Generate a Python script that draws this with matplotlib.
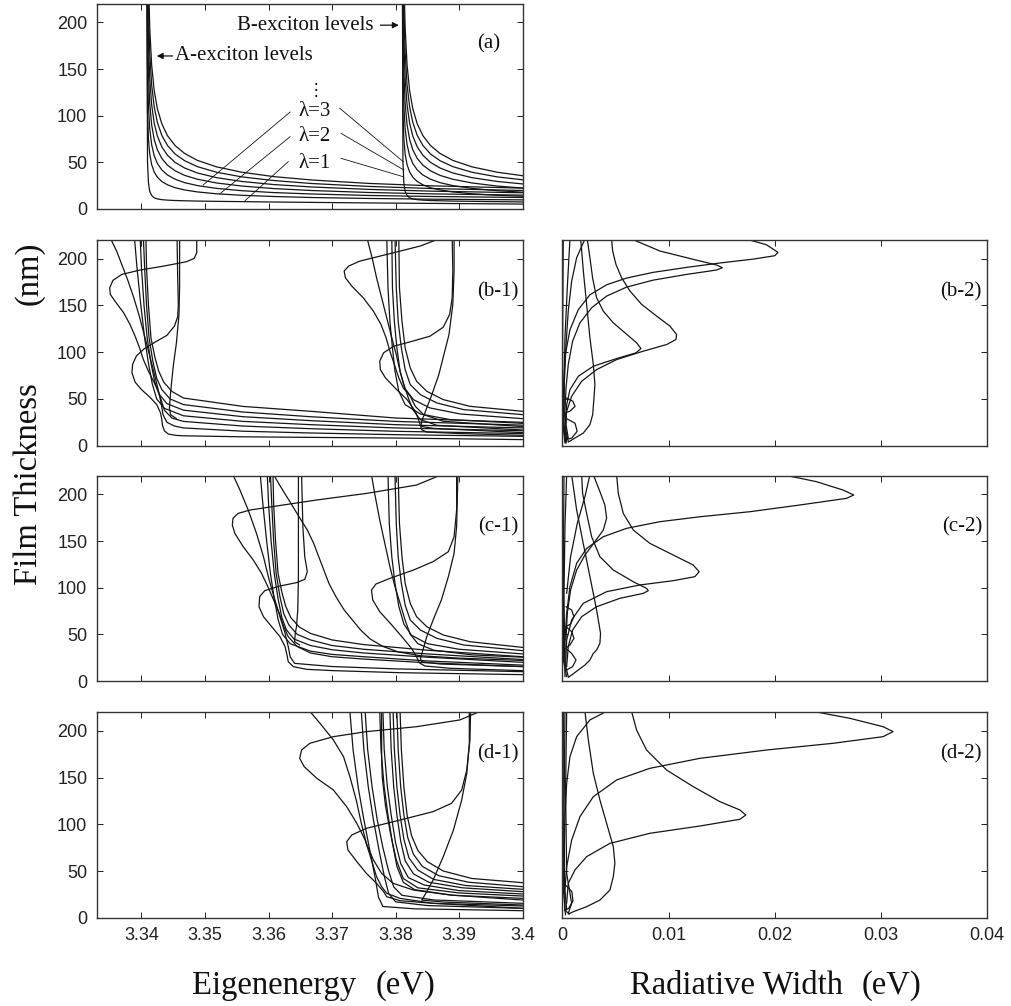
import matplotlib
matplotlib.use('Agg')
import matplotlib.pyplot as plt

plt.rcParams['font.family'] = ['Liberation Sans', 'DejaVu Sans']
SERIF = ['Liberation Serif', 'DejaVu Serif']

# ---------------- panel (a): quantized exciton levels ----------------
level_energy_A = [3.4058, 3.3858, 3.3758, 3.3668, 3.3608, 3.3558, 3.3518, 3.3488, 3.3468, 3.3453,
                  3.3441, 3.3432, 3.3425, 3.3420, 3.3416, 3.3413, 3.3411, 3.34095, 3.3408]
level_energy_B = [3.4460, 3.4260, 3.4160, 3.4070, 3.4010, 3.3960, 3.3920, 3.3890, 3.3870, 3.3855,
                  3.3843, 3.3834, 3.3827, 3.3822, 3.3818, 3.3815, 3.3813, 3.38115, 3.3810]
thick_lam1 = [5.0, 6.0, 6.5, 7.1, 7.5, 7.9, 8.2, 8.5, 8.8, 9.1, 9.5, 10.0, 10.8, 12.0, 14.5, 19.0, 28.0, 50.0, 400]
thick_lam2 = [9.5, 10.5, 11.3, 12.3, 13.4, 14.7, 16.3, 18.3, 20.4, 22.8, 25.9, 29.5, 34.1, 39.7, 47.6, 58.9, 74.7, 103.6, 400]
thick_lam3 = [11.9, 13.4, 14.5, 16.1, 17.6, 19.6, 22.1, 25.1, 28.2, 31.9, 36.4, 41.9, 48.8, 57.2, 69.0, 86.0, 109.6, 153.0, 400]
thick_lam4 = [14.3, 16.2, 17.7, 19.8, 21.9, 24.6, 27.9, 31.9, 36.0, 40.9, 46.9, 54.2, 63.5, 74.6, 90.4, 113.0, 144.5, 202.4, 400]
thick_lam5 = [16.7, 19.1, 21.0, 23.6, 26.2, 29.5, 33.6, 38.6, 43.9, 49.9, 57.5, 66.6, 78.2, 92.1, 111.8, 140.1, 179.5, 251.8, 400]
thick_lam6 = [19.0, 21.9, 24.2, 27.3, 30.5, 34.4, 39.4, 45.4, 51.7, 58.9, 68.0, 78.9, 92.8, 109.6, 133.1, 167.2, 214.4, 301.2, 400]
thick_lam7 = [21.4, 24.8, 27.4, 31.1, 34.7, 39.4, 45.2, 52.1, 59.5, 67.9, 78.5, 91.3, 107.5, 127.0, 154.5, 194.2, 249.3, 350.6, 400]

# ---------------- panel (b-1) ----------------
b1_A_upperS = [(3.3487, 222.5), (3.3487, 206.4), (3.3483, 200.4), (3.3471, 196.8), (3.3435, 192.1), (3.3398, 187.9),
               (3.3369, 183.2), (3.3355, 176.8), (3.3350, 168.9), (3.3351, 161.8), (3.3359, 153.9), (3.3372, 142.1),
               (3.3382, 129.6), (3.3390, 117.1), (3.3397, 104.6), (3.3403, 92.1), (3.3411, 79.6), (3.3419, 68.9),
               (3.3425, 60), (3.3430, 51), (3.3436, 38), (3.3448, 29.5), (3.3466, 26), (3.3560, 21), (3.3666, 18.2),
               (3.3800, 15.4), (3.4, 13)]
b1_A_tilted = [(3.3351, 222), (3.3361, 208), (3.3370, 192), (3.3379, 176), (3.3388, 158), (3.3396, 140), (3.3403, 122),
               (3.3410, 104), (3.3416, 88), (3.3422, 72), (3.3427, 58), (3.3431, 45), (3.3434, 33), (3.3440, 25),
               (3.3452, 21), (3.3466, 19), (3.3560, 15.5), (3.3666, 13.6), (3.3800, 11.8), (3.4, 10)]
b1_A_lev4 = [(3.3389, 222), (3.3393, 190), (3.3399, 150), (3.3405, 115), (3.3411, 88), (3.3417, 66), (3.3424, 50),
             (3.3436, 40), (3.3466, 32), (3.3560, 26), (3.3666, 22.5), (3.3800, 19), (3.4, 16)]
b1_A_lev5 = [(3.3398, 222), (3.3400, 190), (3.3404, 150), (3.3409, 115), (3.3415, 88), (3.3421, 68), (3.3428, 55),
             (3.3440, 45), (3.3466, 38), (3.3560, 31), (3.3666, 26.8), (3.3800, 22.5), (3.4, 19)]
b1_A_lev6 = [(3.3403, 222), (3.3405, 190), (3.3408, 150), (3.3412, 115), (3.3418, 90), (3.3424, 72), (3.3432, 60),
             (3.3445, 50), (3.3466, 44), (3.3560, 36), (3.3666, 31), (3.3800, 26), (3.4, 22)]
b1_A_lev7 = [(3.3407, 222), (3.3408, 190), (3.3411, 150), (3.3415, 115), (3.3421, 95), (3.3427, 80), (3.3435, 68),
             (3.3448, 58), (3.3466, 51), (3.3560, 42), (3.3666, 36.8), (3.3800, 29.6), (3.4, 25)]
b1_A_lowerS = [(3.3456, 222), (3.3457, 180), (3.3458, 150), (3.3457, 138), (3.3452, 128), (3.3440, 118), (3.3422, 111),
               (3.3405, 104), (3.3392, 96), (3.3386, 87), (3.3385, 78), (3.3390, 68), (3.3400, 60), (3.3413, 52),
               (3.3424, 44), (3.3430, 35), (3.3432, 28), (3.3433, 22), (3.3436, 16), (3.3442, 12.5), (3.3455, 11),
               (3.3466, 10.6), (3.3560, 9.5), (3.3666, 8.9), (3.3800, 8.2), (3.4, 6.5)]
b1_A_vert = [(3.3460, 222), (3.3460, 170), (3.3459, 140), (3.3455, 110), (3.3450, 85), (3.3447, 65), (3.3445, 50),
             (3.3444, 40), (3.3446, 33), (3.3455, 29)]
b1_B_upperS = [(3.3873, 222.5), (3.3839, 213.6), (3.3797, 206.4), (3.3744, 197.5), (3.3726, 192.1), (3.3719, 186.8),
               (3.3721, 179.6), (3.3731, 170.7), (3.3749, 158.2), (3.3765, 143.9), (3.3777, 129.6), (3.3785, 115.4),
               (3.3791, 101), (3.3798, 86.8), (3.3805, 72.5), (3.3812, 61.8), (3.3823, 52.9), (3.3831, 42.1),
               (3.3844, 33.2), (3.3875, 26.1), (3.4, 20.4)]
b1_B_tilted = [(3.3755, 222), (3.3763, 201), (3.3770, 179.6), (3.3778, 158.2), (3.3786, 136.8), (3.3794, 115.4),
               (3.3801, 97.5), (3.3807, 79.6), (3.3813, 65.4), (3.3820, 51), (3.3827, 38.6), (3.3839, 27.9),
               (3.3865, 21.8), (3.4, 16.8)]
b1_B_lev1 = [(3.3786, 222.5), (3.3788, 169), (3.3791, 133), (3.3795, 104.6), (3.3799, 79.6), (3.3805, 58.2),
             (3.3815, 43.9), (3.3839, 33.9), (3.3886, 27.9), (3.4, 23.9)]
b1_B_lev2 = [(3.3794, 222.5), (3.3795, 169), (3.3798, 133), (3.3802, 104.6), (3.3807, 79.6), (3.3814, 61.8),
             (3.3828, 49.3), (3.3854, 40.4), (3.3902, 33.9), (3.4, 28.9)]
b1_B_lev3 = [(3.3799, 222.5), (3.3801, 169), (3.3804, 133), (3.3809, 104.6), (3.3815, 81.4), (3.3823, 65.4),
             (3.3839, 54.6), (3.3865, 45.7), (3.3907, 38.6), (3.4, 33.2)]
b1_B_lev4 = [(3.3805, 222.5), (3.3806, 169), (3.3810, 133), (3.3815, 104.6), (3.3823, 83.2), (3.3833, 68.9),
             (3.3849, 58.2), (3.3875, 49.3), (3.3917, 42.1), (3.4, 36.8)]
b1_B_lowerS = [(3.3889, 222.5), (3.3890, 186.8), (3.3889, 158.2), (3.3885, 140.4), (3.3875, 126.8), (3.3854, 117.1),
               (3.3823, 111.1), (3.3797, 106.4), (3.3781, 99.3), (3.3775, 90.4), (3.3776, 81.4), (3.3784, 72.5),
               (3.3799, 61.8), (3.3818, 49.3), (3.3831, 36.8), (3.3836, 27.9), (3.3839, 21.8), (3.3841, 17.1),
               (3.3849, 14.6), (3.3900, 13), (3.4, 11.1)]
b1_B_vert = [(3.3892, 222.5), (3.3892, 186.8), (3.3890, 151), (3.3884, 118.9), (3.3876, 97.5), (3.3868, 76),
             (3.3857, 54.6), (3.3847, 36.8), (3.3841, 26), (3.3840, 20.7), (3.3860, 18.5), (3.4, 14)]

# ---------------- panel (c-1) ----------------
c1_longS = [(3.3872, 221), (3.3833, 210), (3.3754, 201), (3.3676, 194), (3.3623, 188.6), (3.3571, 183.2),
            (3.3552, 179.6), (3.3544, 174.3), (3.3543, 167), (3.3547, 158.2), (3.3560, 144), (3.3576, 129.6),
            (3.3589, 115.4), (3.3599, 101), (3.3608, 86.8), (3.3617, 72.5), (3.3624, 58.2), (3.3631, 47.5),
            (3.3645, 37), (3.3666, 30), (3.3700, 26), (3.3750, 23.5), (3.3850, 19.5), (3.4, 15.5)]
c1_A_tilted = [(3.3544, 221), (3.3555, 204.6), (3.3568, 183.2), (3.3581, 158.2), (3.3592, 133.2), (3.3601, 108.2),
               (3.3610, 86.8), (3.3618, 68.9), (3.3626, 51.1), (3.3631, 36.8), (3.3634, 26), (3.3641, 18.9),
               (3.3700, 15.5), (3.3800, 13), (3.4, 10)]
c1_A_lev1 = [(3.3587, 221), (3.3591, 190), (3.3597, 150), (3.3603, 115), (3.3609, 88), (3.3615, 66), (3.3622, 50),
             (3.3634, 40), (3.3666, 32), (3.3700, 28.5), (3.3750, 26), (3.3850, 21.5), (3.4, 17)]
c1_A_lev2 = [(3.3598, 221), (3.3600, 190), (3.3604, 150), (3.3609, 115), (3.3615, 88), (3.3621, 68), (3.3628, 55),
             (3.3640, 45), (3.3666, 38), (3.3700, 33.5), (3.3750, 30), (3.3850, 25.5), (3.4, 20)]
c1_A_lev3 = [(3.3603, 221), (3.3605, 190), (3.3608, 150), (3.3612, 115), (3.3618, 90), (3.3624, 72), (3.3632, 60),
             (3.3645, 50), (3.3666, 44), (3.3700, 38), (3.3750, 34), (3.3850, 29), (3.4, 23)]
c1_A_lev4 = [(3.3607, 221), (3.3608, 190), (3.3611, 150), (3.3615, 115), (3.3621, 95), (3.3627, 80), (3.3635, 68),
             (3.3648, 58), (3.3666, 51), (3.3700, 44), (3.3750, 39), (3.3850, 33), (3.4, 26)]
c1_A_lowerS = [(3.3652, 221), (3.3654, 165.4), (3.3657, 133.2), (3.3661, 117.1), (3.3657, 108.9), (3.3644, 105.4),
               (3.3618, 101.8), (3.3594, 96.8), (3.3586, 90.4), (3.3585, 79.6), (3.3592, 68.9), (3.3605, 58.2),
               (3.3618, 47.5), (3.3626, 36.8), (3.3629, 27.9), (3.3631, 20.7), (3.3639, 15.4), (3.3660, 12.5),
               (3.3702, 11.1), (3.3807, 8.9), (3.4, 6.8)]
c1_A_vert = [(3.3647, 221), (3.3647, 165.4), (3.3647, 111.8), (3.3646, 76.1), (3.3644, 58.2), (3.3642, 51),
             (3.3641, 42.1), (3.3649, 38.6)]
c1_B_photon = [(3.3608, 221), (3.3619, 208.2), (3.3632, 193.9), (3.3648, 176), (3.3661, 161.8), (3.3671, 147.5),
               (3.3679, 133.2), (3.3687, 118.9), (3.3695, 104.6), (3.3706, 90.4), (3.3719, 76.1), (3.3732, 65.4),
               (3.3745, 54.6), (3.3760, 45), (3.3780, 37), (3.3805, 31), (3.3840, 27), (3.3900, 24.5), (3.4, 22)]
c1_B_tilted = [(3.3762, 221), (3.3767, 201), (3.3775, 172.5), (3.3783, 147.5), (3.3791, 122.5), (3.3799, 101),
               (3.3807, 83.2), (3.3815, 65), (3.3823, 50), (3.3835, 40), (3.3860, 33), (3.3920, 28), (3.4, 25.5)]
c1_B_lev1 = [(3.3788, 221), (3.3790, 169), (3.3794, 133), (3.3799, 104.6), (3.3805, 80), (3.3813, 61), (3.3825, 49),
             (3.3850, 40), (3.3900, 34), (3.4, 29)]
c1_B_lev2 = [(3.3799, 221), (3.3801, 169), (3.3804, 133), (3.3809, 104.6), (3.3815, 81.4), (3.3823, 65.4),
             (3.3839, 54.6), (3.3865, 45.7), (3.3907, 38.6), (3.4, 32.5)]
c1_B_lev3 = [(3.3804, 221), (3.3806, 169), (3.3810, 133), (3.3815, 104.6), (3.3823, 83.2), (3.3833, 68.9),
             (3.3849, 58.2), (3.3875, 49.3), (3.3917, 42.1), (3.4, 36)]
c1_B_lowerS = [(3.3896, 221), (3.3896, 183.2), (3.3892, 154.6), (3.3883, 138.6), (3.3859, 127.9), (3.3828, 118.9),
               (3.3791, 110), (3.3769, 103.9), (3.3762, 97.5), (3.3764, 86.8), (3.3775, 74.3), (3.3794, 60),
               (3.3812, 45.7), (3.3825, 35), (3.3833, 26), (3.3837, 19.6), (3.3846, 16.1), (3.3886, 13.6), (3.4, 11.1)]
c1_B_vert = [(3.3898, 221), (3.3896, 165.4), (3.3892, 136.8), (3.3883, 111.8), (3.3872, 86.8), (3.3859, 65.4),
             (3.3849, 47.5), (3.3843, 33.2), (3.3839, 24.3), (3.3841, 20.7), (3.3870, 18.2), (3.4, 15.4)]

# ---------------- panel (d-1) ----------------
d1_longS = [(3.3933, 221), (3.3901, 211.8), (3.3833, 204.6), (3.3754, 199.3), (3.3702, 193.9), (3.3665, 186.8),
            (3.3652, 179.6), (3.3649, 170.7), (3.3656, 161.8), (3.3676, 149.3), (3.3702, 136.8), (3.3723, 118.9),
            (3.3739, 101), (3.3752, 83.2), (3.3762, 61.8), (3.3770, 43.9), (3.3778, 33.2), (3.3786, 26.1),
            (3.3807, 20.7), (3.3859, 15.4), (3.4, 10)]
d1_lowerS = [(3.3918, 221), (3.3917, 190.4), (3.3912, 158.2), (3.3904, 136.8), (3.3888, 122.5), (3.3859, 113.6),
             (3.3807, 104.6), (3.3754, 95.7), (3.3731, 88.6), (3.3723, 81.4), (3.3725, 72.5), (3.3739, 60),
             (3.3754, 47.5), (3.3770, 36.8), (3.3781, 27.9), (3.3786, 22.5), (3.3807, 18.2), (3.3859, 15.4), (3.4, 12.5)]
d1_vert = [(3.3916, 221), (3.3916, 186.8), (3.3912, 154.6), (3.3904, 126.1), (3.3891, 93.9), (3.3875, 65.4),
           (3.3859, 40.4), (3.3846, 24.3), (3.3841, 18.9), (3.3875, 16.8), (3.4, 13.6)]
d1_photon = [(3.3665, 221), (3.3681, 208.2), (3.3702, 190.4), (3.3718, 172.5), (3.3728, 151.1), (3.3738, 126.1),
             (3.3746, 101.1), (3.3754, 79.6), (3.3765, 61.8), (3.3778, 47.5), (3.3796, 36.8), (3.3828, 29.6),
             (3.3886, 24.3), (3.4, 18.9)]
d1_lev1 = [(3.3807, 221), (3.3809, 180), (3.3813, 140), (3.3818, 110), (3.3825, 88), (3.3835, 72), (3.3850, 60),
           (3.3875, 50), (3.3920, 42), (3.4, 37.5)]
d1_lev2 = [(3.3802, 221), (3.3804, 180), (3.3808, 140), (3.3813, 110), (3.3819, 86), (3.3828, 68), (3.3842, 55),
           (3.3868, 45), (3.3915, 38), (3.4, 33.2)]
d1_lev3 = [(3.3796, 221), (3.3798, 180), (3.3802, 140), (3.3807, 110), (3.3813, 84), (3.3821, 64), (3.3835, 51),
           (3.3860, 41), (3.3910, 34.5), (3.4, 30.4)]
d1_lev4 = [(3.3791, 221), (3.3793, 180), (3.3797, 140), (3.3802, 110), (3.3808, 82), (3.3815, 61), (3.3828, 47),
           (3.3852, 38), (3.3905, 32), (3.4, 27.9)]
d1_lev5 = [(3.3780, 221), (3.3782, 180), (3.3787, 140), (3.3793, 110), (3.3800, 80), (3.3808, 58), (3.3820, 43),
           (3.3845, 35), (3.3900, 29), (3.4, 25.4)]
d1_lev6 = [(3.3778, 221), (3.3778, 170), (3.3779, 150), (3.3784, 120), (3.3792, 90), (3.3801, 62), (3.3812, 42),
           (3.3835, 32), (3.3900, 26.5), (3.4, 23.2)]
d1_lev7 = [(3.3775, 221), (3.3777, 180), (3.3782, 140), (3.3788, 110), (3.3795, 80), (3.3802, 55), (3.3812, 38),
           (3.3830, 30), (3.3890, 24), (3.4, 20.7)]
d1_lev8 = [(3.3752, 221), (3.3756, 180), (3.3763, 140), (3.3771, 105), (3.3780, 75), (3.3789, 50), (3.3797, 33),
           (3.3810, 24), (3.3860, 19), (3.4, 15.4)]
d1_lev9 = [(3.3746, 221), (3.3750, 180), (3.3757, 140), (3.3765, 105), (3.3774, 72), (3.3782, 45), (3.3789, 26),
           (3.3800, 17), (3.3850, 13), (3.4, 10)]
d1_lev10 = [(3.3728, 221), (3.3733, 180), (3.3741, 140), (3.3750, 105), (3.3760, 70), (3.3768, 42), (3.3773, 22),
            (3.3780, 12), (3.3830, 9.5), (3.4, 7.5)]

# ---------------- panel (b-2): radiative widths ----------------
b2_peak1 = [(0.0173, 221), (0.0192, 215), (0.0203, 206.8), (0.0200, 203.2), (0.0180, 199.6), (0.01483, 195.4),
            (0.01169, 190.7), (0.00856, 185.4), (0.00605, 179.3), (0.00417, 172.1), (0.0026, 161.4), (0.0015, 145.4),
            (0.00072, 123.9), (0.00031, 98.9), (0.00016, 73.9), (0.0001, 45.4), (0.00016, 16.8), (0.00034, 2.5)]
b2_peak2 = [(0.00653, 221), (0.00919, 208.2), (0.01233, 199.3), (0.01453, 193.2), (0.01506, 190.4), (0.01453, 187.9),
            (0.0117, 183.2), (0.00856, 177.1), (0.00605, 169.6), (0.00417, 160), (0.00276, 147.5), (0.00166, 131.4),
            (0.00097, 111.8), (0.00056, 86.8), (0.00035, 61.8), (0.00025, 36.8), (0.00035, 15.4), (0.00056, 4.6)]
b2_peak3 = [(0.00464, 221), (0.00474, 208.2), (0.00505, 193.9), (0.00558, 179.6), (0.00637, 165.4), (0.00747, 151.1),
            (0.00888, 138.6), (0.01013, 127.9), (0.01076, 118.9), (0.0107, 113.6), (0.00982, 108.2), (0.00762, 101.1),
            (0.00511, 92.1), (0.00323, 81.4), (0.00182, 68.9), (0.00088, 52.9), (0.00041, 36.8), (0.00025, 18.9),
            (0.00041, 6.4)]
b2_peak4 = [(0.00235, 221), (0.0026, 201), (0.00285, 179.6), (0.00323, 158.2), (0.00386, 143.9), (0.0048, 131.4),
            (0.0059, 120.7), (0.007, 110), (0.0074, 103.9), (0.00693, 99.3), (0.00511, 93.2), (0.00292, 85),
            (0.00151, 74.3), (0.00072, 60), (0.00041, 43.9), (0.00035, 22.5), (0.00056, 8.2)]
b2_wiggle = [(0.00173, 221), (0.00198, 186.8), (0.00229, 151), (0.0026, 115.4), (0.00292, 86.8), (0.00307, 65.4),
             (0.00298, 51), (0.00286, 33.2), (0.0026, 22.5), (0.00198, 13.6), (0.00119, 8.2), (0.00056, 3.9)]
b2_edge1 = [(0.00009, 221), (0.00003, 115), (0.00003, 26), (0.00025, 2.9)]
b2_edge2 = [(0.00072, 221), (0.00047, 169), (0.00025, 115), (0.00016, 61.8), (0.00016, 22.5), (0.0004, 3.9)]
b2_cross = [(0.00213, 221), (0.00135, 201), (0.00088, 176), (0.00056, 143.9), (0.00035, 108.2), (0.0002, 70), (0.00012, 30)]
b2_loops = [(0.0004, 51), (0.001, 47.5), (0.0012, 42), (0.0007, 36.8), (0.00025, 35), (0.0003, 29.6), (0.0012, 24),
            (0.0014, 15.4), (0.0009, 8.2), (0.0003, 6.4)]

# ---------------- panel (c-2) ----------------
c2_peak1 = [(0.02078, 221), (0.02392, 213.6), (0.02643, 204.6), (0.02743, 199.3), (0.02674, 195.7), (0.02235, 188.6),
            (0.01765, 181.4), (0.01295, 176), (0.00918, 170.7), (0.00605, 163.6), (0.00386, 154.6), (0.00229, 142.1),
            (0.00135, 126.1), (0.00072, 101.1), (0.00041, 72.5), (0.00025, 43.9), (0.00025, 18.9), (0.00056, 4.6)]
c2_peak2 = [(0.00511, 221), (0.00527, 201), (0.00574, 179.6), (0.00668, 161.8), (0.00824, 147.5), (0.01044, 135),
            (0.01232, 124.3), (0.01288, 117.1), (0.01248, 111.8), (0.01044, 107.5), (0.0073, 102.9), (0.00417, 95.7),
            (0.00197, 83.2), (0.00088, 65.4), (0.00041, 43.9), (0.00031, 15.4)]
c2_peak3 = [(0.00182, 221), (0.00191, 201), (0.00229, 179.6), (0.00276, 154.6), (0.00354, 133.2), (0.0048, 118.9),
            (0.00668, 106.4), (0.00793, 99.3), (0.00809, 96.8), (0.00762, 93.9), (0.00542, 88.6), (0.00323, 79.6),
            (0.00182, 68.9), (0.00097, 54.6), (0.00056, 36.8), (0.00041, 15.4)]
c2_bump = [(0.00292, 221), (0.00354, 202.9), (0.00401, 188.6), (0.00417, 174.3), (0.00386, 161.8), (0.00307, 149.3),
           (0.00213, 135), (0.00135, 118.9), (0.00078, 97.5), (0.00047, 72.5), (0.00034, 43.9)]
c2_wiggle = [(0.00088, 221), (0.00135, 183.2), (0.00197, 147.5), (0.0026, 111.8), (0.00323, 76.1), (0.0036, 51.1),
             (0.00354, 40.4), (0.00323, 33.2), (0.00292, 29.6), (0.0026, 22.5), (0.00213, 17.1), (0.0015, 11.8),
             (0.00088, 6.4), (0.00056, 3.9)]
c2_cross = [(0.0026, 221), (0.00213, 197.5), (0.00141, 168.9), (0.00078, 133.2), (0.00041, 93.9)]
c2_edge1 = [(0.00016, 221), (0.0001, 129.6), (0.0001, 22.5), (0.00041, 4.6)]
c2_edge2 = [(0.00041, 221), (0.00025, 165.4), (0.00016, 93.9), (0.00025, 4.6)]
c2_loops = [(0.00034, 79.6), (0.00088, 76.1), (0.0011, 68.9), (0.00078, 61.1), (0.00034, 58.2), (0.00088, 52.9),
            (0.0011, 45.7), (0.00072, 38.6), (0.00034, 35), (0.00088, 29.6), (0.00129, 22.5), (0.00097, 15.4),
            (0.00041, 11.8)]

# ---------------- panel (d-2) ----------------
d2_peak1 = [(0.0236, 221), (0.02705, 213.6), (0.03019, 204.6), (0.03113, 199.3), (0.03019, 193.9), (0.02549, 186.8),
            (0.01922, 179.6), (0.01295, 170.7), (0.00824, 160), (0.00511, 147.5), (0.00292, 129.6), (0.00166, 108.2),
            (0.00088, 83.2), (0.00041, 54.6), (0.00025, 29.6), (0.00041, 8.2)]
d2_peak2 = [(0.00652, 221), (0.00699, 201), (0.00793, 179.6), (0.00981, 158.2), (0.01232, 140.4), (0.01483, 124.3),
            (0.01671, 115.4), (0.01727, 110), (0.01671, 105.4), (0.01295, 98.2), (0.00824, 90.4), (0.00448, 79.6),
            (0.00229, 65.4), (0.00119, 51.1), (0.00056, 36.8), (0.00041, 15.4)]
d2_cross = [(0.00417, 221), (0.0026, 211.8), (0.00135, 193.9), (0.00072, 172.5), (0.00041, 143.9), (0.00025, 108.2),
            (0.00016, 65.4)]
d2_bulge = [(0.00213, 221), (0.00245, 190.4), (0.00292, 154.6), (0.00354, 126.1), (0.00417, 101.1), (0.0048, 76.1),
            (0.00495, 58.2), (0.0048, 43.9), (0.00448, 29.6), (0.00354, 18.9), (0.00229, 11.8), (0.00103, 6.4),
            (0.00056, 3.9)]
d2_edge1 = [(0.00025, 221), (0.00016, 101), (0.00025, 8.2)]
d2_edge2 = [(0.00041, 221), (0.00031, 136.8), (0.00041, 47.5), (0.00088, 15.4), (0.00056, 4.6)]
d2_edge3 = [(0.0001, 221), (0.00008, 120), (0.0001, 30), (0.0003, 3)]
d2_loop = [(0.0003, 35), (0.0009, 28), (0.0010, 18), (0.0006, 10), (0.0002, 8), (0.0007, 4)]

yticks = [0, 50, 100, 150, 200]
energy_ticks = [3.34, 3.35, 3.36, 3.37, 3.38, 3.39, 3.40]
energy_labels = ['3.34', '3.35', '3.36', '3.37', '3.38', '3.39', '3.4']
width_ticks = [0, 0.01, 0.02, 0.03, 0.04]
width_labels = ['0', '0.01', '0.02', '0.03', '0.04']

# ---------------- figure ----------------
W, H = 1011, 1006
fig = plt.figure(figsize=(W / 100, H / 100), dpi=100)

def box(x0, x1, ytop, ybot):
    return [x0 / W, 1 - ybot / H, (x1 - x0) / W, (ybot - ytop) / H]

LW = 0.9
COL = '#151515'

def style(ax, xlim, xt, xl, show_x, show_y):
    ax.set_xlim(*xlim)
    ax.set_ylim(0, 220)
    ax.set_xticks(xt)
    ax.set_yticks(yticks)
    if show_x:
        ax.set_xticklabels(xl)
    else:
        ax.set_xticklabels([])
    if not show_y:
        ax.set_yticklabels([])
    ax.tick_params(direction='in', length=4, width=0.7, top=True, right=True, labelsize=13, pad=7, colors='#222222')
    for s in ax.spines.values():
        s.set_linewidth(1.0)
        s.set_color('#333333')

def draw(ax, curve):
    ax.plot([p[0] for p in curve], [p[1] for p in curve], color=COL, lw=LW, solid_joinstyle='round',
            solid_capstyle='round')

ax_a = fig.add_axes(box(97, 522.7, 3.7, 209))
ax_b1 = fig.add_axes(box(97, 522.7, 240, 445.7))
ax_c1 = fig.add_axes(box(97, 522.7, 475.7, 681))
ax_d1 = fig.add_axes(box(97, 522.7, 712.3, 917.7))
ax_b2 = fig.add_axes(box(562.3, 987.3, 240, 445.7))
ax_c2 = fig.add_axes(box(562.3, 987.3, 475.7, 681))
ax_d2 = fig.add_axes(box(562.3, 987.3, 712.3, 917.7))

for ax in (ax_a, ax_b1, ax_c1, ax_d1):
    style(ax, (3.333, 3.4), energy_ticks, energy_labels, ax is ax_d1, True)
for ax in (ax_b2, ax_c2, ax_d2):
    style(ax, (0, 0.04), width_ticks, width_labels, ax is ax_d2, False)

# panel (a)
for th in (thick_lam1, thick_lam2, thick_lam3, thick_lam4, thick_lam5, thick_lam6, thick_lam7):
    ax_a.plot(level_energy_A, th, color=COL, lw=LW)
    ax_a.plot(level_energy_B, th, color=COL, lw=LW)

tkw = dict(family=SERIF, fontsize=15, color='#111111')
ax_a.text(3.3765, 197, 'B-exciton levels', ha='right', va='center', **tkw)
ax_a.annotate('', xy=(3.3805, 197), xytext=(3.3776, 197),
              arrowprops=dict(arrowstyle='-|>', lw=0.9, color='#111111', mutation_scale=9, shrinkA=0, shrinkB=0))
ax_a.text(3.3452, 164, 'A-exciton levels', ha='left', va='center', **tkw)
ax_a.annotate('', xy=(3.3424, 164), xytext=(3.3449, 164),
              arrowprops=dict(arrowstyle='-|>', lw=0.9, color='#111111', mutation_scale=9, shrinkA=0, shrinkB=0))
ax_a.text(3.3674, 127, '\u22ee', ha='center', va='center', family=['DejaVu Sans'], fontsize=12, color='#111111')
ax_a.text(3.3673, 104, '\u03bb=3', ha='center', va='center', **tkw)
ax_a.text(3.3673, 77.5, '\u03bb=2', ha='center', va='center', **tkw)
ax_a.text(3.3673, 49, '\u03bb=1', ha='center', va='center', **tkw)
leader_lines = [((3.3634, 103.9), (3.3497, 25.7)), ((3.3634, 77.5), (3.3523, 16.1)), ((3.3631, 50.7), (3.3563, 8.9)),
                ((3.3712, 108.0), (3.3812, 50.7)), ((3.3714, 81.1), (3.3813, 41.8)), ((3.3714, 54.3), (3.3812, 34.6))]
for (e0, t0), (e1, t1) in leader_lines:
    ax_a.plot([e0, e1], [t0, t1], color=COL, lw=0.6)
ax_a.text(3.3964, 176.5, '(a)', ha='right', va='center', **tkw)

for c in (b1_A_upperS, b1_A_tilted, b1_A_lev4, b1_A_lev5, b1_A_lev6, b1_A_lev7, b1_A_lowerS, b1_A_vert,
          b1_B_upperS, b1_B_tilted, b1_B_lev1, b1_B_lev2, b1_B_lev3, b1_B_lev4, b1_B_lowerS, b1_B_vert):
    draw(ax_b1, c)
for c in (c1_longS, c1_A_tilted, c1_A_lev1, c1_A_lev2, c1_A_lev3, c1_A_lev4, c1_A_lowerS, c1_A_vert,
          c1_B_photon, c1_B_tilted, c1_B_lev1, c1_B_lev2, c1_B_lev3, c1_B_lowerS, c1_B_vert):
    draw(ax_c1, c)
for c in (d1_longS, d1_lowerS, d1_vert, d1_photon, d1_lev1, d1_lev2, d1_lev3, d1_lev4, d1_lev5, d1_lev6,
          d1_lev7, d1_lev8, d1_lev9, d1_lev10):
    draw(ax_d1, c)
for c in (b2_peak1, b2_peak2, b2_peak3, b2_peak4, b2_wiggle, b2_edge1, b2_edge2, b2_cross, b2_loops):
    draw(ax_b2, c)
for c in (c2_peak1, c2_peak2, c2_peak3, c2_bump, c2_wiggle, c2_cross, c2_edge1, c2_edge2, c2_loops):
    draw(ax_c2, c)
for c in (d2_peak1, d2_peak2, d2_cross, d2_bulge, d2_edge1, d2_edge2, d2_edge3, d2_loop):
    draw(ax_d2, c)

ax_b1.text(3.3993, 165, '(b-1)', ha='right', va='center', **tkw)
ax_c1.text(3.3993, 165, '(c-1)', ha='right', va='center', **tkw)
ax_d1.text(3.3993, 175, '(d-1)', ha='right', va='center', **tkw)
ax_b2.text(0.0395, 165, '(b-2)', ha='right', va='center', **tkw)
ax_c2.text(0.0395, 165, '(c-2)', ha='right', va='center', **tkw)
ax_d2.text(0.0395, 175, '(d-2)', ha='right', va='center', **tkw)

lkw = dict(family=SERIF, fontsize=23.5, color='#111111')
fig.text(191.7 / W, 1 - 994 / H, 'Eigenenergy', ha='left', va='baseline', **lkw)
fig.text(435 / W, 1 - 994 / H, '(eV)', ha='right', va='baseline', **lkw)
fig.text(630 / W, 1 - 994 / H, 'Radiative Width', ha='left', va='baseline', **lkw)
fig.text(921.7 / W, 1 - 994 / H, '(eV)', ha='right', va='baseline', **lkw)
fig.text(29 / W, 1 - 484 / H, 'Film Thickness', ha='center', va='center', rotation=90, **lkw)
fig.text(29 / W, 1 - 273 / H, '(nm)', ha='center', va='center', rotation=90, **lkw)

fig.savefig('out.png', dpi=100, facecolor='white')
